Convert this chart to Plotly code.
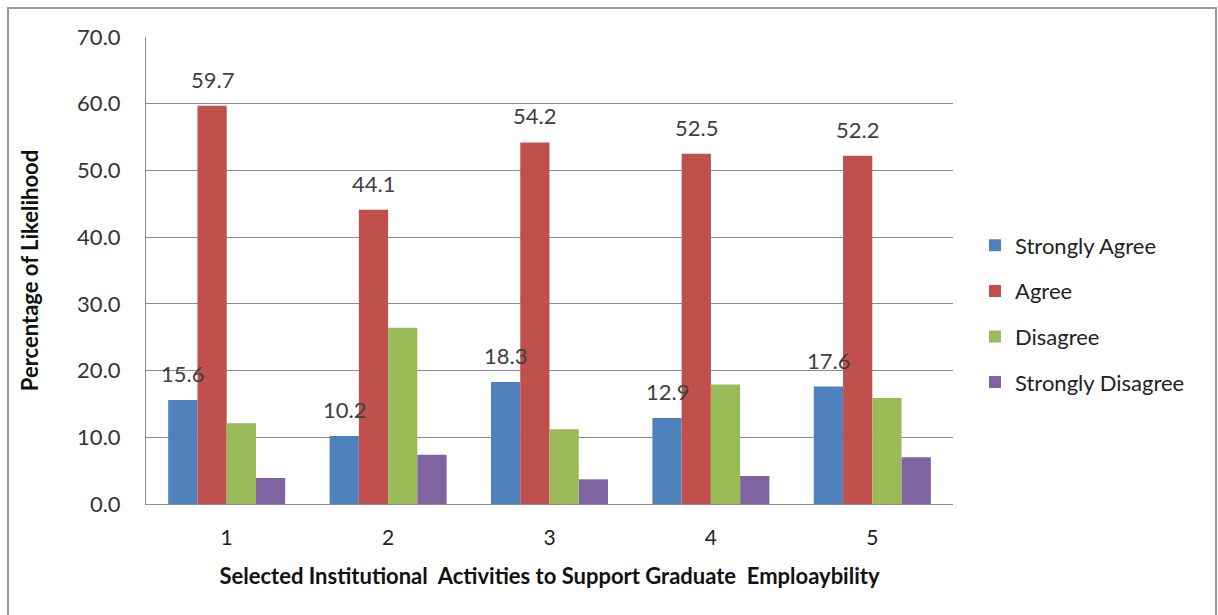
import plotly.graph_objects as go

# Survey results per institutional activity (percent of respondents)
activities = [1, 2, 3, 4, 5]
strongly_agree = [15.6, 10.2, 18.3, 12.9, 17.6]
agree = [59.7, 44.1, 54.2, 52.5, 52.2]
disagree = [12.1, 26.4, 11.2, 17.9, 15.9]
strongly_disagree = [3.9, 7.4, 3.7, 4.2, 7.0]

series_names = ["Strongly Agree", "Agree", "Disagree", "Strongly Disagree"]
series_values = [strongly_agree, agree, disagree, strongly_disagree]
series_colors = ["#4F81BD", "#C0504D", "#9BBB59", "#8064A2"]
labelled_series = [0, 1]  # only these series carry value labels

y_ticks = [0, 10, 20, 30, 40, 50, 60, 70]

FONT = "Lato"
BARGAP = 0.275

fig = go.Figure()
for i, (name, vals, col) in enumerate(zip(series_names, series_values, series_colors)):
    fig.add_trace(go.Bar(
        x=activities, y=vals, name=name,
        marker=dict(color=col, line=dict(width=0)),
        legendgroup=name,
    ))

# value labels above the labelled bars
n = len(series_names)
bar_w = (1 - BARGAP) / n
annotations = []
for k in labelled_series:
    offset = (k - (n - 1) / 2) * bar_w
    for xv, yv in zip(activities, series_values[k]):
        annotations.append(dict(
            x=xv + offset, y=yv, xref="x", yref="y",
            text=f"{yv:.1f}", showarrow=False,
            yanchor="bottom", xanchor="center", yshift=11,
            font=dict(family=FONT, size=22, color="#404040"),
        ))

# coordinates of the outer chart frame relative to the plot area
L, R, T, B = 146, 265, 37, 111
W, H = 1218, 615
pw, ph = W - L - R, H - T - B
frame = dict(
    type="rect", xref="paper", yref="paper",
    x0=(8 - L) / pw, x1=(1216 - L) / pw,
    y0=(H - B - 640) / ph, y1=(H - B - 8) / ph,
    line=dict(color="#9a9a9a", width=2), fillcolor="rgba(0,0,0,0)",
    layer="below",
)

fig.update_layout(
    width=W, height=H,
    margin=dict(l=L, r=R, t=T, b=B, autoexpand=False),
    paper_bgcolor="white", plot_bgcolor="white",
    barmode="group", bargap=BARGAP, bargroupgap=0,
    font=dict(family=FONT, color="#333333"),
    annotations=annotations,
    shapes=[frame],
    showlegend=True,
    legend=dict(
        x=(975 - L) / pw, xanchor="left",
        y=(H - B - 314) / ph, yanchor="middle",
        font=dict(family=FONT, size=22, color="#222222"),
        tracegroupgap=14, bgcolor="rgba(0,0,0,0)",
    ),
)

fig.update_xaxes(
    range=[0.5, 5.5], tickmode="array", tickvals=activities,
    ticktext=[str(a) for a in activities],
    tickfont=dict(family=FONT, size=21, color="#222222"),
    ticks="", ticklabelstandoff=15,
    showline=True, linecolor="#8c8c8c", linewidth=1,
    showgrid=False, zeroline=False,
    title=dict(text="<b>Selected Institutional  Activities to Support Graduate  Emploaybility</b>",
               font=dict(family=FONT, size=22, color="#111111"), standoff=20),
)
fig.update_yaxes(
    range=[0, 70], tickmode="array", tickvals=y_ticks,
    ticktext=[f"{v:.1f}" for v in y_ticks],
    tickfont=dict(family=FONT, size=22, color="#333333"),
    ticks="", ticklabelstandoff=20,
    showline=True, linecolor="#8c8c8c", linewidth=1,
    showgrid=True, gridcolor="#8c8c8c", gridwidth=1,
    zeroline=False,
    title=dict(text="<b>Percentage of Likelihood</b>",
               font=dict(family=FONT, size=22, color="#111111"), standoff=32),
)

fig.write_html("out.html")
